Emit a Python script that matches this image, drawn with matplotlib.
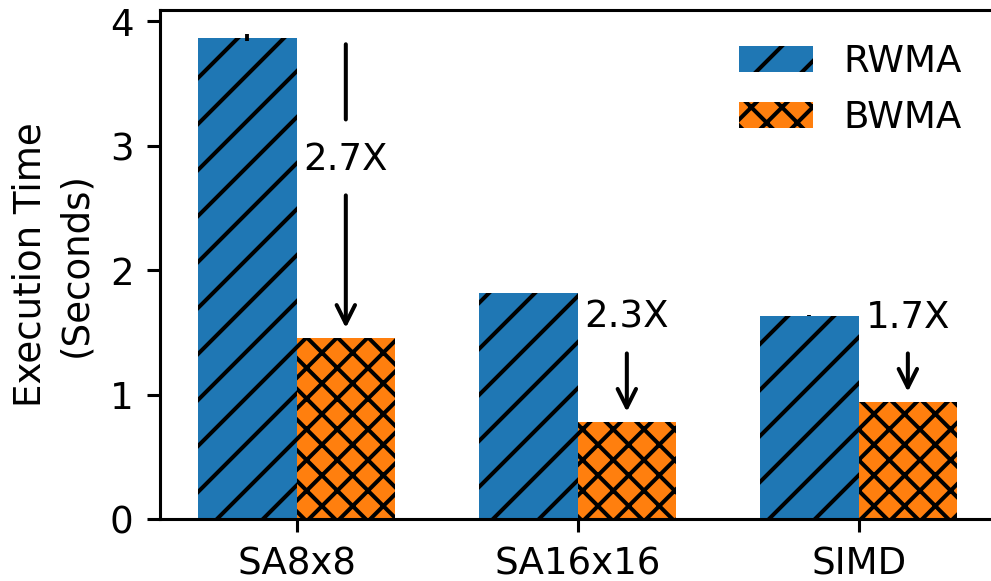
import numpy as np
import matplotlib
matplotlib.use('Agg')
import matplotlib.pyplot as plt

# data
categories = ['SA8x8', 'SA16x16', 'SIMD']
rwma = [3.867, 1.816, 1.634]      # execution time (s)
bwma = [1.455, 0.781, 0.942]
rwma_err = [0.03, 0.0, 0.005]
series_names = ['RWMA', 'BWMA']

# where the speedup text sits (data units) and whether a line goes up to the RWMA bar
label_y = [2.89, 1.62, 1.62]
top_line = [True, False, False]

DPI = 276
FS = 9.7
plt.rcParams['font.size'] = FS
plt.rcParams['hatch.linewidth'] = 1.05

fig = plt.figure(figsize=(991 / DPI, 581 / DPI), dpi=DPI)
ax = fig.add_axes([0.1618, 0.1067, 0.8422, 0.8761])

x = np.arange(len(categories))
width = 0.35

ax.bar(x - width / 2, rwma, width, yerr=rwma_err, color='#1f77b4', hatch='//',
       error_kw=dict(elinewidth=1.0, capsize=0), label=series_names[0])
ax.bar(x + width / 2, bwma, width, color='#ff7f0e', hatch='xxx', label=series_names[1])

# speedup labels with arrows pointing to the BWMA bar
for i in range(len(categories)):
    xs = x[i] + width / 2
    speedup = rwma[i] / bwma[i]
    ax.text(xs, label_y[i], f'{speedup:.1f}X', ha='center', va='center', fontsize=FS)
    ax.annotate('', xy=(xs, bwma[i]), xytext=(xs, label_y[i]),
                arrowprops=dict(arrowstyle='->', lw=1.05, shrinkA=9.4, shrinkB=2.6,
                                mutation_scale=12))
    if top_line[i]:
        ax.annotate('', xy=(xs, rwma[i]), xytext=(xs, label_y[i]),
                    arrowprops=dict(arrowstyle='-', lw=1.05, shrinkA=10.4, shrinkB=1.7))

ax.set_ylim(0, 4.09)
ax.set_xlim(-0.485, 2.485)
ax.set_yticks([0, 1, 2, 3, 4])
ax.set_xticks(x)
ax.set_xticklabels(categories)
ax.set_ylabel('Execution Time\n(Seconds)', linespacing=1.3)
ax.legend(loc='upper right', frameon=False)

plt.savefig('out.png', dpi=DPI)
